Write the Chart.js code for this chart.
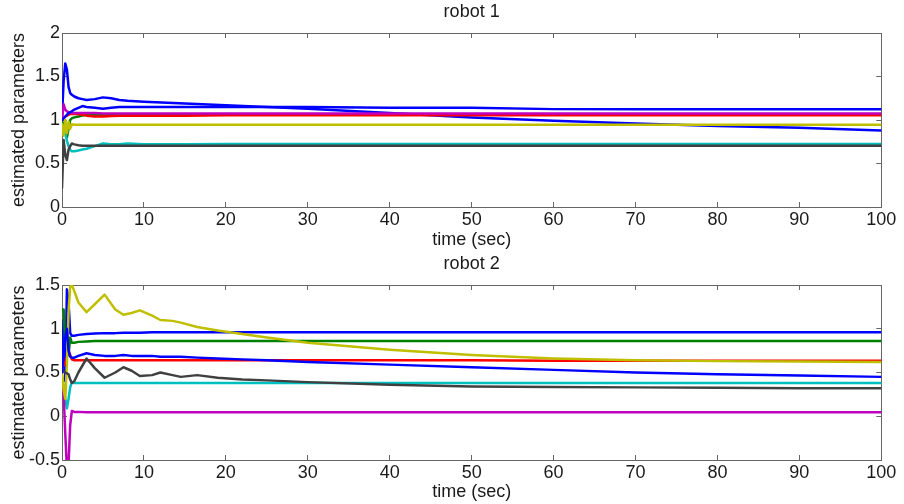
<!DOCTYPE html>
<html>
<head>
<meta charset="utf-8">
<title>robot parameters</title>
<script src="https://cdn.jsdelivr.net/npm/chart.js@4.4.1/dist/chart.umd.min.js"></script>
<style>
    html, body { margin: 0; padding: 0; background: #fff; }
    #wrap { position: relative; width: 904px; height: 504px; overflow: hidden; }
    #wrap canvas { position: absolute; left: 0; }
    #robot1 { top: 0; }
    #robot2 { top: 252px; }
</style>
</head>
<body>
<div id="wrap">
    <canvas id="robot1" width="904" height="252"></canvas>
    <canvas id="robot2" width="904" height="252"></canvas>
</div>
<script>
// --- robot 1 : estimated parameters ---
const r1Time = [0, 0.2, 0.4, 0.6, 0.8, 1, 1.2, 1.5, 2, 2.5, 3, 4, 5, 6, 7, 8, 10, 15, 20, 30, 40, 50, 60, 70, 80, 90, 100];
const r1Blue = [1.04, 1.45, 1.65, 1.58, 1.38, 1.31, 1.29, 1.27, 1.25, 1.24, 1.23, 1.24, 1.26, 1.25, 1.23, 1.22, 1.21, 1.19, 1.17, 1.13, 1.08, 1.03, 0.99, 0.96, 0.93, 0.91, 0.88];
const r1Green = [1.0, 0.92, 0.85, 0.8, 0.9, 1.0, 1.02, 1.03, 1.04, 1.05, 1.06, 1.06, 1.06, 1.06, 1.06, 1.06, 1.06, 1.06, 1.06, 1.06, 1.06, 1.06, 1.06, 1.06, 1.06, 1.06, 1.06];
const r1Red = [1.0, 1.02, 1.04, 1.05, 1.06, 1.07, 1.07, 1.07, 1.07, 1.06, 1.05, 1.04, 1.04, 1.045, 1.05, 1.05, 1.05, 1.05, 1.055, 1.055, 1.055, 1.055, 1.055, 1.055, 1.055, 1.055, 1.055];
const r1Cyan = [0.95, 0.9, 0.85, 0.76, 0.7, 0.66, 0.64, 0.64, 0.65, 0.66, 0.67, 0.7, 0.73, 0.72, 0.72, 0.73, 0.72, 0.72, 0.725, 0.725, 0.725, 0.725, 0.725, 0.725, 0.725, 0.725, 0.725];
const r1Magenta = [1.0, 1.18, 1.12, 1.1, 1.09, 1.08, 1.08, 1.08, 1.08, 1.08, 1.08, 1.08, 1.075, 1.075, 1.075, 1.075, 1.075, 1.075, 1.075, 1.075, 1.075, 1.075, 1.075, 1.075, 1.075, 1.075, 1.075];
const r1Yellow = [0.95, 0.82, 1.0, 0.85, 0.98, 0.9, 0.95, 0.945, 0.945, 0.945, 0.945, 0.945, 0.945, 0.945, 0.945, 0.945, 0.945, 0.945, 0.945, 0.945, 0.945, 0.945, 0.945, 0.945, 0.945, 0.945, 0.945];
const r1Black = [0.22, 0.77, 0.6, 0.54, 0.66, 0.7, 0.73, 0.72, 0.71, 0.705, 0.705, 0.705, 0.705, 0.705, 0.705, 0.705, 0.705, 0.705, 0.705, 0.705, 0.705, 0.705, 0.705, 0.705, 0.705, 0.705, 0.705];
const r1Blue2 = [1.0, 1.02, 1.04, 1.06, 1.08, 1.09, 1.1, 1.12, 1.14, 1.16, 1.15, 1.14, 1.13, 1.14, 1.15, 1.15, 1.15, 1.15, 1.15, 1.15, 1.14, 1.14, 1.125, 1.125, 1.125, 1.125, 1.125];

// --- robot 2 ---
const r2Time = [0, 0.2, 0.4, 0.6, 0.8, 1, 1.2, 1.5, 2, 3, 4, 5.2, 6.5, 7.5, 8.5, 9.5, 11, 12, 13.5, 14.5, 16.5, 19, 22, 25, 30, 40, 50, 60, 70, 80, 90, 100];
const r2Blue = [0.5, 1.1, 0.4, 1.45, 1.3, 0.95, 0.92, 0.92, 0.93, 0.94, 0.945, 0.95, 0.95, 0.955, 0.955, 0.955, 0.96, 0.96, 0.96, 0.96, 0.96, 0.96, 0.96, 0.96, 0.96, 0.96, 0.96, 0.96, 0.96, 0.96, 0.96, 0.96];
const r2Green = [1.22, 1.22, 0.8, 1.0, 0.7, 0.9, 0.84, 0.84, 0.85, 0.855, 0.86, 0.86, 0.86, 0.86, 0.86, 0.86, 0.86, 0.86, 0.86, 0.86, 0.86, 0.86, 0.86, 0.86, 0.86, 0.86, 0.86, 0.86, 0.86, 0.86, 0.86, 0.86];
const r2Red = [0.55, 0.58, 0.62, 0.68, 0.75, 0.7, 0.65, 0.64, 0.64, 0.64, 0.64, 0.64, 0.64, 0.64, 0.64, 0.64, 0.64, 0.64, 0.64, 0.64, 0.64, 0.64, 0.64, 0.64, 0.64, 0.64, 0.64, 0.635, 0.635, 0.635, 0.635, 0.635];
const r2Cyan = [0.45, 0.35, 0.2, 0.09, 0.2, 0.33, 0.39, 0.38, 0.38, 0.38, 0.38, 0.38, 0.38, 0.38, 0.38, 0.38, 0.38, 0.38, 0.38, 0.38, 0.38, 0.38, 0.38, 0.38, 0.38, 0.38, 0.38, 0.38, 0.38, 0.38, 0.38, 0.38];
const r2Magenta = [0.3, 0.25, -0.2, -0.6, -0.55, -0.1, 0.06, 0.05, 0.05, 0.045, 0.045, 0.045, 0.045, 0.045, 0.045, 0.045, 0.045, 0.045, 0.045, 0.045, 0.045, 0.045, 0.045, 0.045, 0.045, 0.045, 0.045, 0.045, 0.045, 0.045, 0.045, 0.045];
const r2Yellow = [0.5, 0.3, 0.2, 0.6, 1.2, 1.48, 1.5, 1.43, 1.3, 1.19, 1.28, 1.39, 1.22, 1.16, 1.18, 1.21, 1.15, 1.1, 1.09, 1.07, 1.02, 0.98, 0.94, 0.9, 0.84, 0.76, 0.7, 0.66, 0.64, 0.63, 0.625, 0.62];
const r2Black = [0.53, 0.52, 0.5, 0.49, 0.48, 0.42, 0.38, 0.4, 0.5, 0.66, 0.55, 0.44, 0.5, 0.56, 0.52, 0.46, 0.47, 0.5, 0.47, 0.45, 0.47, 0.44, 0.42, 0.41, 0.39, 0.36, 0.34, 0.335, 0.33, 0.325, 0.32, 0.32];
const r2Blue2 = [0.5, 0.7, 0.9, 1.0, 0.75, 0.68, 0.67, 0.67, 0.69, 0.72, 0.7, 0.69, 0.69, 0.7, 0.69, 0.69, 0.69, 0.68, 0.68, 0.68, 0.67, 0.66, 0.65, 0.64, 0.62, 0.59, 0.56, 0.53, 0.5, 0.48, 0.465, 0.45];

const xTicks = [0, 10, 20, 30, 40, 50, 60, 70, 80, 90, 100];
// MATLAB default colour order: b g r c m y k (then b again)
const lineColors = ['#0000ff', '#008000', '#ff0000', '#00bfbf', '#bf00bf', '#bfbf00', '#404040', '#0000ff'];

(function (window) {
    'use strict';

    const Chart = window.Chart;
    const FONT = { family: 'Liberation Sans, Arial, sans-serif', size: 18, lineHeight: 1.2 };
    const AXIS = '#666666';
    const TEXT = '#1a1a1a';

    function toPoints(times, values) {
        return times.map(function (t, i) { return { x: t, y: values[i] }; });
    }

    // MATLAB prints 1 and 0.5, never 1.0
    function plainLabel(value) {
        return String(Math.round(value * 10) / 10);
    }

    function boxAxis(extra) {
        // inward MATLAB-like ticks, no grid inside the box
        return Object.assign({
            grid: { drawOnChartArea: false, drawTicks: true, tickLength: -5, color: AXIS },
            border: { display: true, color: AXIS, width: 1 },
        }, extra);
    }

    function renderRobot(canvasId, title, times, series, yRange, xAxisHeight) {
        const canvas = document.getElementById(canvasId);
        if (!Chart || !canvas) {
            return;
        }

        const n = series.length;
        const datasets = series.map(function (values, i) {
            return {
                data: toPoints(times, values),
                borderColor: lineColors[i],
                borderWidth: 2.5,
                pointRadius: 0,
                tension: 0,
                order: n - i, // later series drawn on top, as in MATLAB
            };
        });

        const tickValues = function (min, max, step) {
            return function (scale) {
                scale.ticks = [];
                for (let v = min; v <= max + 1e-9; v += step) {
                    scale.ticks.push({ value: Math.round(v * 10) / 10 });
                }
            };
        };

        new Chart(canvas, {
            type: 'line',
            data: { datasets: datasets },
            options: {
                responsive: false,
                animation: false,
                devicePixelRatio: 1,
                layout: { padding: { left: 0, right: 18, top: 0, bottom: 0 } },
                elements: { line: { borderJoinStyle: 'round', borderCapStyle: 'round' } },
                plugins: {
                    legend: { display: false },
                    tooltip: { enabled: false },
                    title: {
                        display: true,
                        text: title,
                        fullSize: false,
                        color: TEXT,
                        font: Object.assign({}, FONT, { weight: 'normal' }),
                        padding: { top: 1, bottom: 10.4 },
                    },
                },
                scales: {
                    x: boxAxis({
                        type: 'linear',
                        position: 'bottom',
                        min: 0,
                        max: 100,
                        afterBuildTicks: function (scale) {
                            scale.ticks = xTicks.map(function (v) { return { value: v }; });
                        },
                        ticks: { color: TEXT, font: FONT, padding: 7.7, maxRotation: 0, autoSkip: false, callback: plainLabel },
                        title: { display: true, text: 'time (sec)', color: TEXT, font: FONT, padding: { top: 0, bottom: 1.2 } },
                        afterFit: function (scale) { scale.height = xAxisHeight; },
                    }),
                    xTop: boxAxis({
                        type: 'linear',
                        position: 'top',
                        min: 0,
                        max: 100,
                        afterBuildTicks: function (scale) {
                            scale.ticks = xTicks.map(function (v) { return { value: v }; });
                        },
                        ticks: { display: false },
                        afterFit: function (scale) { scale.height = 0; },
                    }),
                    y: boxAxis({
                        type: 'linear',
                        position: 'left',
                        min: yRange[0],
                        max: yRange[1],
                        afterBuildTicks: tickValues(yRange[0], yRange[1], 0.5),
                        ticks: { color: TEXT, font: FONT, padding: 7, callback: plainLabel },
                        title: { display: true, text: 'estimated parameters', color: TEXT, font: FONT, padding: { top: 8.2, bottom: 0 } },
                        afterFit: function (scale) { scale.width = 62; },
                    }),
                    yRight: boxAxis({
                        type: 'linear',
                        position: 'right',
                        min: yRange[0],
                        max: yRange[1],
                        afterBuildTicks: tickValues(yRange[0], yRange[1], 0.5),
                        ticks: { display: false },
                        afterFit: function (scale) { scale.width = 0; },
                    }),
                },
            },
        });
    }

    renderRobot('robot1', 'robot 1', r1Time,
        [r1Blue, r1Green, r1Red, r1Cyan, r1Magenta, r1Yellow, r1Black, r1Blue2],
        [0, 2], 45);

    renderRobot('robot2', 'robot 2', r2Time,
        [r2Blue, r2Green, r2Red, r2Cyan, r2Magenta, r2Yellow, r2Black, r2Blue2],
        [-0.5, 1.5], 44);
})(window);
</script>
</body>
</html>
